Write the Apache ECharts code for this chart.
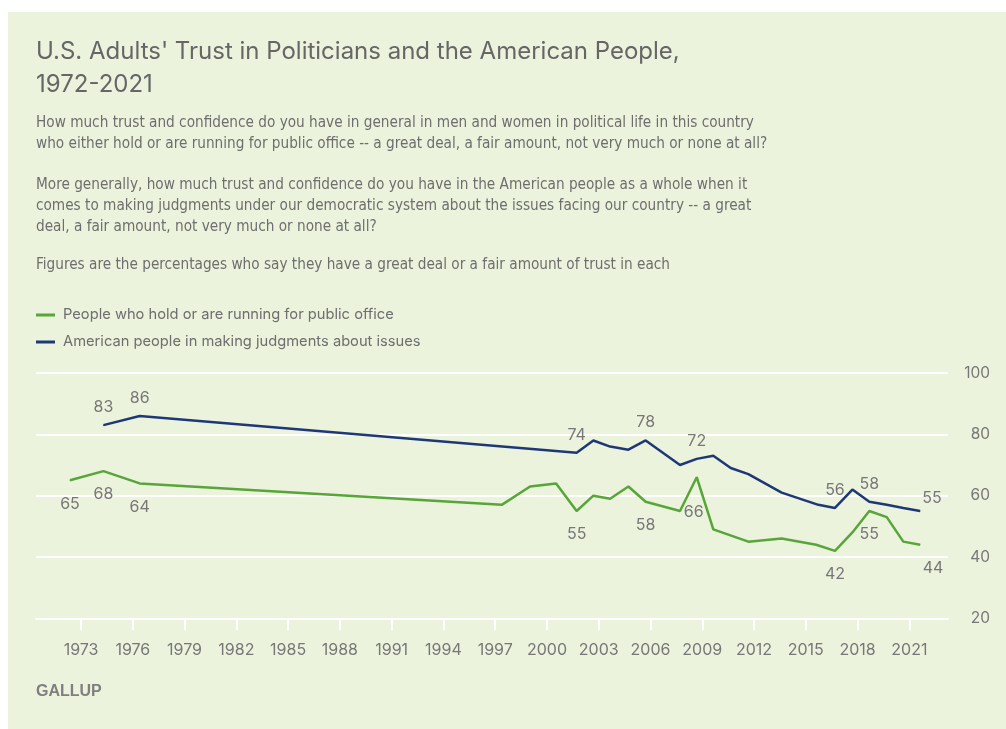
<!DOCTYPE html>
<html>
<head>
<meta charset="utf-8">
<script src="https://cdn.jsdelivr.net/npm/echarts@6/dist/echarts.min.js"></script>
<style>
  html, body { margin: 0; padding: 0; background: #ffffff; }
  #panel { position: absolute; left: 8px; top: 12px; width: 998px; height: 717px; background: #ebf3dc; }
  #chart { position: absolute; left: 0; top: 0; width: 1006px; height: 729px; }
</style>
</head>
<body>
<div id="panel"></div>
<div id="chart"></div>
<script>
// Survey dates (decimal years) and shares with a great deal / fair amount of trust
const officeYears = [1972.36, 1974.3, 1976.4, 1997.38, 1999.02, 2000.53, 2001.72, 2002.69, 2003.66, 2004.72, 2005.72, 2007.71, 2008.68, 2009.64, 2011.67, 2013.6, 2015.6, 2016.69, 2017.7, 2018.68, 2019.69, 2020.65, 2021.62];
const officeValues = [65, 68, 64, 57, 63, 64, 55, 60, 59, 63, 58, 55, 66, 49, 45, 46, 44, 42, 48, 55, 53, 45, 44];
const officeLabelled = [1972.36, 1974.3, 1976.4, 2001.72, 2005.72, 2008.68, 2016.69, 2018.68, 2021.62];

const peopleYears = [1974.3, 1976.4, 2001.72, 2002.69, 2003.66, 2004.72, 2005.72, 2007.71, 2008.68, 2009.64, 2010.65, 2011.67, 2013.6, 2015.73, 2016.69, 2017.7, 2018.68, 2019.69, 2020.65, 2021.62];
const peopleValues = [83, 86, 74, 78, 76, 75, 78, 70, 72, 73, 69, 67, 61, 57, 56, 62, 58, 57, 56, 55];
const peopleLabelled = [1974.3, 1976.4, 2001.72, 2005.72, 2008.68, 2016.69, 2018.68, 2021.62];

const tickYears = [1973, 1976, 1979, 1982, 1985, 1988, 1991, 1994, 1997, 2000, 2003, 2006, 2009, 2012, 2015, 2018, 2021];
const yTicks = { min: 20, max: 100, step: 20 };

const seriesNames = ['People who hold or are running for public office', 'American people in making judgments about issues'];

const titleLines = ["U.S. Adults' Trust in Politicians and the American People,", '1972-2021'];
const questionOne = [
  'How much trust and confidence do you have in general in men and women in political life in this country',
  'who either hold or are running for public office -- a great deal, a fair amount, not very much or none at all?'
];
const questionTwo = [
  'More generally, how much trust and confidence do you have in the American people as a whole when it',
  'comes to making judgments under our democratic system about the issues facing our country -- a great',
  'deal, a fair amount, not very much or none at all?'
];
const noteLine = 'Figures are the percentages who say they have a great deal or a fair amount of trust in each';
const sourceText = 'GALLUP';

// ---- styling ----
const GREEN = '#58a53a';
const NAVY = '#1e3877';
const GREY = '#777777';
const TEXT_GREY = '#6e6e6e';
const NUM_FONT = 'Inter';
const BODY_FONT = 'DejaVu Sans Condensed';

// label nudges for end-of-line / crowded labels (x value -> [dx, dy])
const officeNudge = { 2008.68: [-3, 11], 2021.62: [13, 0] };
const peopleNudge = { 2021.62: [12, 5] };

function buildData(xs, ys, labelled, position, distance, nudge) {
  return xs.map((x, i) => {
    const item = { value: [x, ys[i]] };
    if (labelled.indexOf(x) >= 0) {
      item.label = {
        show: true,
        position: position,
        distance: distance,
        offset: nudge[x] || [0, 0],
        color: GREY,
        fontSize: 16,
        fontFamily: NUM_FONT,
        formatter: (p) => String(p.value[1])
      };
    }
    return item;
  });
}

const chart = echarts.init(document.getElementById('chart'), null, { renderer: 'canvas' });

const option = {
  backgroundColor: 'transparent',
  animation: false,
  grid: { left: 36, right: 58, top: 373, bottom: 110.7, containLabel: false },
  legend: {
    show: true,
    orient: 'vertical',
    left: 36,
    top: 307,
    padding: 0,
    icon: 'rect',
    itemWidth: 19,
    itemHeight: 3,
    itemGap: 11,
    selectedMode: false,
    textStyle: { color: TEXT_GREY, fontSize: 14.7, fontFamily: NUM_FONT, lineHeight: 16, padding: [0, 0, 0, 3] },
    data: seriesNames
  },
  xAxis: {
    type: 'value',
    min: 1970.39,
    max: 2023.24,
    axisLine: { show: true, lineStyle: { color: '#ffffff', width: 2 } },
    axisTick: { show: true, length: 12, lineStyle: { color: '#ffffff', width: 2 }, customValues: tickYears },
    axisLabel: { customValues: tickYears, color: GREY, fontSize: 16, fontFamily: NUM_FONT, margin: 24, formatter: (v) => String(v) },
    splitLine: { show: false }
  },
  yAxis: {
    type: 'value',
    position: 'right',
    min: yTicks.min,
    max: yTicks.max,
    interval: yTicks.step,
    axisLine: { show: false },
    axisTick: { show: false },
    axisLabel: { color: GREY, fontSize: 15.5, fontFamily: NUM_FONT, align: 'right', margin: 42 },
    splitLine: { show: true, lineStyle: { color: '#ffffff', width: 2 } }
  },
  series: [
    {
      name: seriesNames[0],
      type: 'line',
      data: buildData(officeYears, officeValues, officeLabelled, 'bottom', 15, officeNudge),
      color: GREEN,
      lineStyle: { color: GREEN, width: 2.5 },
      symbol: 'circle',
      symbolSize: 1,
      showSymbol: true,
      showAllSymbol: true,
      itemStyle: { color: GREEN },
      label: { show: false },
      emphasis: { disabled: true },
      silent: true
    },
    {
      name: seriesNames[1],
      type: 'line',
      data: buildData(peopleYears, peopleValues, peopleLabelled, 'top', 9.5, peopleNudge),
      color: NAVY,
      lineStyle: { color: NAVY, width: 2.5 },
      symbol: 'circle',
      symbolSize: 1,
      showSymbol: true,
      showAllSymbol: true,
      itemStyle: { color: NAVY },
      label: { show: false },
      emphasis: { disabled: true },
      silent: true
    }
  ],
  graphic: [
    {
      type: 'text', left: 36, top: 35.2, silent: true,
      style: { text: titleLines.join('\n'), fontSize: 24, lineHeight: 33, fontFamily: NUM_FONT, fill: '#666666' }
    },
    {
      type: 'text', left: 36, top: 112.5, silent: true,
      style: { text: questionOne.join('\n'), fontSize: 15.2, lineHeight: 21, fontFamily: BODY_FONT, fill: TEXT_GREY }
    },
    {
      type: 'text', left: 36, top: 174.5, silent: true,
      style: { text: questionTwo.join('\n'), fontSize: 15.2, lineHeight: 21, fontFamily: BODY_FONT, fill: TEXT_GREY }
    },
    {
      type: 'text', left: 36, top: 254.5, silent: true,
      style: { text: noteLine, fontSize: 15.2, lineHeight: 21, fontFamily: BODY_FONT, fill: TEXT_GREY }
    },
    {
      type: 'text', left: 36, top: 684, silent: true,
      style: { text: sourceText, fontSize: 16, fontWeight: 'bold', fontFamily: 'Liberation Sans', fill: '#7f7f7f' }
    }
  ]
};

chart.setOption(option);
</script>
</body>
</html>
